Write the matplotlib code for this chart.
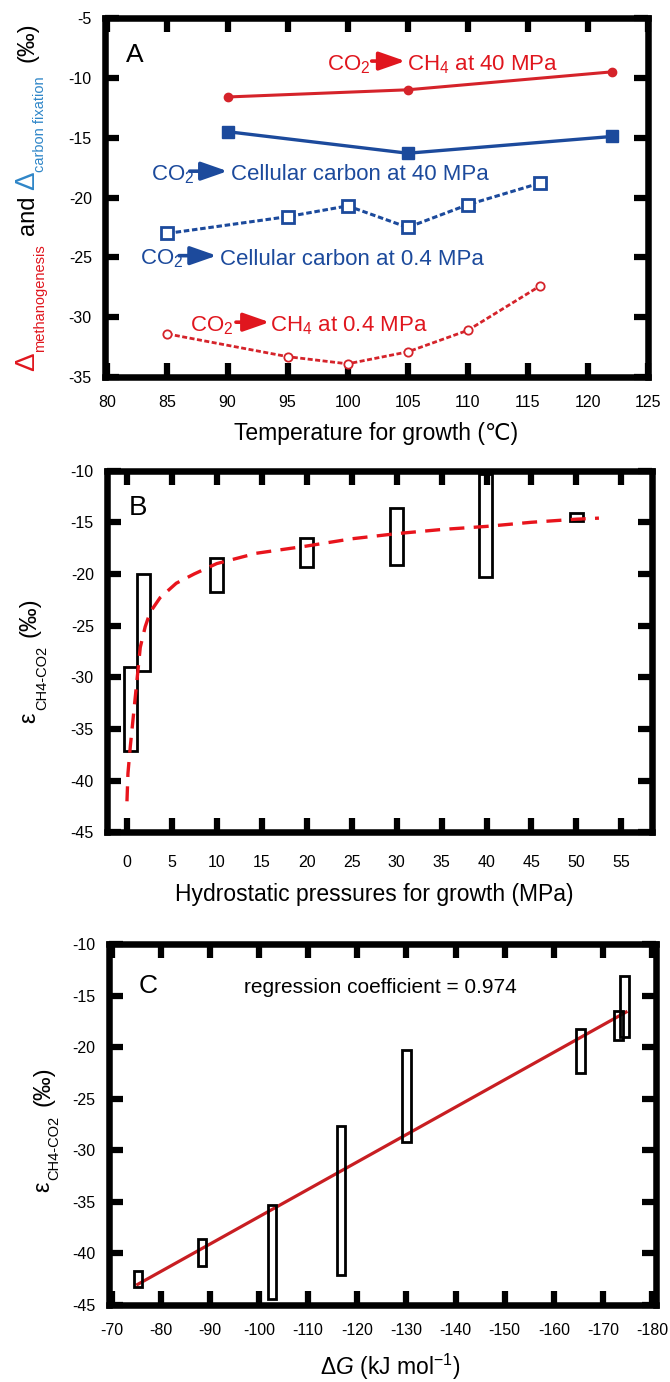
"""
Three-panel figure: isotope fractionation vs temperature, pressure and dG.
"""
import matplotlib
matplotlib.use('Agg')
import matplotlib.pyplot as plt
from matplotlib.patches import Rectangle

plt.rcParams['font.family'] = ['Liberation Sans', 'DejaVu Sans']
plt.rcParams['mathtext.fontset'] = 'custom'
plt.rcParams['mathtext.rm'] = 'Liberation Sans'
plt.rcParams['mathtext.it'] = 'Liberation Sans:italic'
plt.rcParams['mathtext.bf'] = 'Liberation Sans:bold'
plt.rcParams['axes.unicode_minus'] = False

# ---- panel A data (temperature series) ----
temp_40 = [90, 105, 122]
ch4_40 = [-11.6, -11.0, -9.5]
cell_40 = [-14.5, -16.3, -14.9]
temp_04 = [85, 95, 100, 105, 110, 116]
cell_04 = [-23.0, -21.6, -20.7, -22.5, -20.6, -18.8]
ch4_04 = [-31.4, -33.3, -33.9, -32.9, -31.1, -27.4]

# ---- panel B data (pressure boxes + fitted curve) ----
press_c = [0.4, 1.9, 10, 20, 30, 39.9, 50]
press_lo = [-37.1, -29.4, -21.7, -19.3, -19.1, -20.3, -14.9]
press_hi = [-29.0, -20.0, -18.5, -16.5, -13.6, -10.3, -14.1]
curve_x = [0.02, 0.13, 0.39, 0.76, 1.13, 1.5, 2.05, 2.6, 3.7, 5.5, 7.5, 10,
           14.4, 20, 25, 30, 35, 40, 45, 50, 52.5]
curve_y = [-42.0, -39.3, -36.7, -33.5, -30.3, -27.1, -25.1, -23.7, -22.3, -20.9,
           -20.0, -19.0, -18.0, -17.3, -16.6, -16.1, -15.7, -15.4, -15.0, -14.7, -14.6]

# ---- panel C data (dG boxes + regression) ----
dg_c = [-75.4, -88.4, -102.6, -116.7, -130.0, -165.4, -173.2, -174.4]
dg_lo = [-43.3, -41.2, -44.4, -42.1, -29.2, -22.5, -19.3, -19.0]
dg_hi = [-41.7, -38.6, -35.3, -27.6, -20.3, -18.2, -16.5, -13.1]
fit_x = [-75.3, -174.7]
fit_y = [-43.0, -16.6]

RED = '#e0161e'
RED_LINE = '#d5232a'
BLUE = '#1c4a9c'
LBLUE = '#2f86c8'

W, H = 670, 1382
fig = plt.figure(figsize=(W / 100, H / 100), dpi=100)


def axes_px(left, top, right, bottom):
    return fig.add_axes([left / W, 1 - bottom / H, (right - left) / W, (bottom - top) / H])


def style(ax, xpad):
    for sp in ax.spines.values():
        sp.set_linewidth(4.7)
    ax.tick_params(direction='in', length=10, width=4.5, top=True, right=True,
                   labelsize=11.5)
    ax.tick_params(axis='x', pad=xpad)
    ax.tick_params(axis='y', pad=9.5)


def stack_label(x_base, y_start, pieces):
    # rotated label built bottom-up from pieces: (text, size, color, dx, gap)
    renderer = fig.canvas.get_renderer()
    y = y_start
    for s, size, color, dx, gap in pieces:
        t = fig.text((x_base + dx) / W, 1 - y / H, s, rotation=90, rotation_mode='anchor',
                     ha='left', va='baseline', fontsize=size, color=color)
        ext = t.get_window_extent(renderer)
        y -= ext.height + gap


def reaction(ax, x_co, xa0, xa1, x_rest, yb, ya, rest, color):
    ax.text(x_co, yb, 'CO$_2$', color=color, fontsize=16, ha='left', va='baseline')
    ax.annotate('', xy=(xa1, ya), xytext=(xa0, ya),
                arrowprops=dict(arrowstyle='-|>,head_length=0.8,head_width=0.28',
                                color=color, lw=2.6, shrinkA=0, shrinkB=0,
                                mutation_scale=20))
    ax.text(x_rest, yb, rest, color=color, fontsize=16, ha='left', va='baseline')


# ================= A =================
axA = axes_px(105, 18, 648, 377)
axA.plot(temp_40, ch4_40, color=RED_LINE, lw=2.2, marker='o', ms=6, zorder=3)
axA.plot(temp_40, cell_40, color=BLUE, lw=2.4, marker='s', ms=9, zorder=3)
axA.plot(temp_04, cell_04, color=BLUE, lw=2.2, ls=(0, (1.8, 0.9)), marker='s', ms=8,
         mfc='white', mew=2, zorder=3)
axA.plot(temp_04, ch4_04, color=RED_LINE, lw=2.0, ls=(0, (1.8, 0.9)), marker='o', ms=6,
         mfc='white', mew=1.3, zorder=3)
axA.set_xlim(79.8, 125)
axA.set_ylim(-35, -5)
axA.set_xticks(range(80, 126, 5))
axA.set_yticks(range(-35, -4, 5))
style(axA, 13)
reaction(axA, 98.3, 102.0, 104.8, 104.9, -9.42, -8.6, 'CH$_4$ at 40 MPa', RED)
reaction(axA, 83.6, 86.85, 90.0, 90.3, -18.53, -17.8, 'Cellular carbon at 40 MPa', BLUE)
reaction(axA, 82.75, 85.96, 89.1, 89.4, -25.6, -24.86, 'Cellular carbon at 0.4 MPa', BLUE)
reaction(axA, 86.85, 90.7, 93.5, 93.55, -31.17, -30.42, 'CH$_4$ at 0.4 MPa', RED)
axA.text(0.039, 0.878, 'A', transform=axA.transAxes, fontsize=19, va='baseline')
axA.text(0.5, -0.156, 'Temperature for growth (℃)', transform=axA.transAxes,
         ha='center', va='center', fontsize=16.5)

# ================= B =================
axB = axes_px(107, 470.6, 652, 832.3)
for xc, lo, hi in zip(press_c, press_lo, press_hi):
    axB.add_patch(Rectangle((xc - 0.72, lo), 1.44, hi - lo, fill=False, lw=2,
                            ec='black', zorder=2))
axB.plot(curve_x, curve_y, color='#e8141c', lw=2.4, ls=(0, (4.5, 2.8)), zorder=3)
axB.set_xlim(-2.2, 58.4)
axB.set_ylim(-45, -10)
axB.set_xticks(range(0, 56, 5))
axB.set_yticks(range(-45, -9, 5))
style(axB, 16.5)
axB.text(0.039, 0.877, 'B', transform=axB.transAxes, fontsize=20, va='baseline')
axB.text(0.49, -0.173, 'Hydrostatic pressures for growth (MPa)', transform=axB.transAxes,
         ha='center', va='center', fontsize=16.5)

# ================= C =================
axC = axes_px(108.7, 944, 656, 1305)
axC.plot(fit_x, fit_y, color='#c81e22', lw=2.3, zorder=2)
for xc, lo, hi in zip(dg_c, dg_lo, dg_hi):
    axC.add_patch(Rectangle((xc - 0.85, lo), 1.7, hi - lo, fill=False, lw=2,
                            ec='black', zorder=3))
axC.set_xlim(-69.4, -180.8)
axC.set_ylim(-45, -10)
axC.set_xticks(range(-70, -181, -10))
axC.set_yticks(range(-45, -9, 5))
style(axC, 13)
axC.text(0.055, 0.863, 'C', transform=axC.transAxes, fontsize=19, va='baseline')
axC.text(0.2476, 0.863, 'regression coefficient = 0.974', transform=axC.transAxes,
         fontsize=15, va='baseline')
axC.text(0.514, -0.172, 'Δ$G$ (kJ mol$^{-1}$)', transform=axC.transAxes,
         ha='center', va='center', fontsize=16.5)

# ================= rotated y labels =================
stack_label(34, 371, [('Δ', 20, RED, 0, 0),
                      ('methanogenesis', 10.5, RED, 10, 10),
                      ('and', 17, 'black', 0, 5),
                      ('Δ', 20, LBLUE, 0, 0),
                      ('carbon fixation', 10.5, LBLUE, 10, 14),
                      ('(‰)', 17, 'black', 0, 0)])
stack_label(35, 723, [('ε', 17, 'black', 0, 2),
                      ('CH4-CO2', 10.5, 'black', 11, 9),
                      ('(‰)', 17, 'black', 0, 0)])
stack_label(49, 1192, [('ε', 17, 'black', 0, 2),
                       ('CH4-CO2', 10.5, 'black', 9, 9),
                       ('(‰)', 17, 'black', 0, 0)])

fig.savefig('out.png', dpi=100)
